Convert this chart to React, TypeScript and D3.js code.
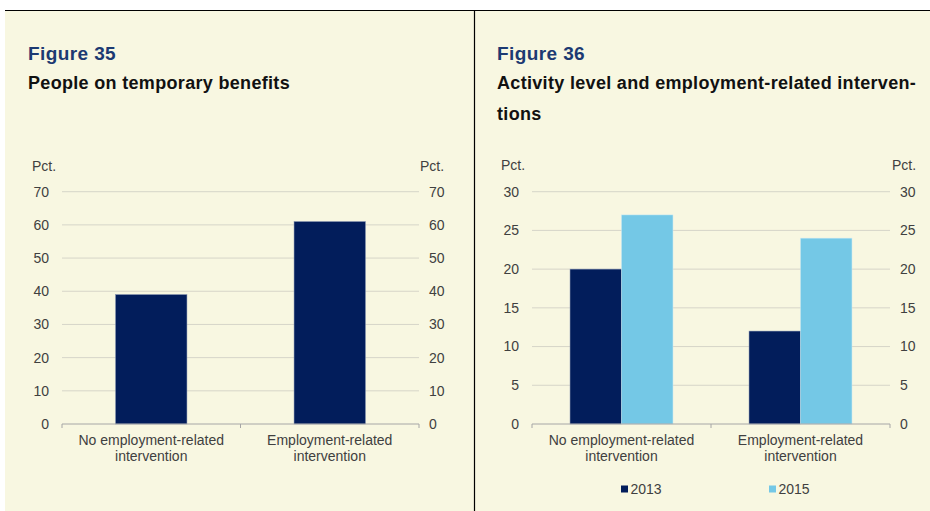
import React from "react";
import * as d3 from "d3";

const categories = ["No employment-related|intervention", "Employment-related|intervention"];
const fig35Values = [39, 61];
const fig35Ticks = [0, 10, 20, 30, 40, 50, 60, 70];
const seriesNames = ["2013", "2015"];
const fig36_2013 = [20, 12];
const fig36_2015 = [27, 24];
const fig36Ticks = [0, 5, 10, 15, 20, 25, 30];

const BG = "#f8f7e1";
const NAVY = "#021d5b";
const LIGHT = "#74c8e6";
const GRID = "#d6d5c8";
const AXIS = "#a6a6a6";
const TXT = "#404040";
const FONT = "'Liberation Sans', Arial, sans-serif";
const FS = 14;

function Axes({ x0, x1, y, ticks, labelL, labelR }: any) {
  return (
    <g>
      {ticks.map((t: number) => (
        <g key={t}>
          {t !== 0 && <line x1={x0} x2={x1} y1={y(t)} y2={y(t)} stroke={GRID} strokeWidth={1} />}
          <text x={labelL} y={y(t)} dy="0.35em" textAnchor="end" fontSize={FS} fill={TXT} fontFamily={FONT}>{t}</text>
          <text x={labelR} y={y(t)} dy="0.35em" textAnchor="start" fontSize={FS} fill={TXT} fontFamily={FONT}>{t}</text>
        </g>
      ))}
    </g>
  );
}

function CatLabels({ x, cats, y0 }: any) {
  return (
    <g>
      {cats.map((c: string) => {
        const lines = c.split("|");
        const cx = (x(c) as number) + x.bandwidth() / 2;
        return lines.map((l, i) => (
          <text key={c + i} x={cx} y={y0 + 21 + i * 15.5} textAnchor="middle" fontSize={FS} fill={TXT} fontFamily={FONT}>{l}</text>
        ));
      })}
    </g>
  );
}

function BaseAxis({ x0, x1, y0, n }: any) {
  const xs = d3.range(n + 1).map((i) => x0 + ((x1 - x0) * i) / n);
  return (
    <g>
      <line x1={x0} x2={x1} y1={y0} y2={y0} stroke={AXIS} strokeWidth={1} />
      {xs.map((xx, i) => (
        <line key={i} x1={xx} x2={xx} y1={y0} y2={y0 + 4} stroke={AXIS} strokeWidth={1} />
      ))}
    </g>
  );
}

export default function App() {
  const yTop = 191.7;
  const yBot = 424;

  // Figure 35
  const l0 = 62, l1 = 419;
  const yL = d3.scaleLinear().domain([0, 70]).range([yBot, yTop]);
  const xL = d3.scaleBand<string>().domain(categories).range([l0, l1]).paddingInner(0.6).paddingOuter(0.3);

  // Figure 36
  const r0 = 532, r1 = 890;
  const yR = d3.scaleLinear().domain([0, 30]).range([yBot, yTop]);
  const xR = d3.scaleBand<string>().domain(categories).range([r0, r1]).paddingInner(0.425).paddingOuter(0.2125);
  const xS = d3.scaleBand<string>().domain(seriesNames).range([0, xR.bandwidth()]);
  const seriesVals = [fig36_2013, fig36_2015];
  const seriesCols = [NAVY, LIGHT];

  const titleStyle = { fontSize: 19, fontWeight: "bold" as const, fill: "#1c3a72", fontFamily: FONT, letterSpacing: 0.4 };
  const subStyle = { fontSize: 18, fontWeight: "bold" as const, fill: "#111", fontFamily: FONT, letterSpacing: 0.32 };

  return (
    <svg width={930} height={511} style={{ position: "absolute", left: 0, top: 0 }}>
      <rect x={0} y={0} width={930} height={511} fill="#ffffff" />
      <rect x={5} y={10} width={925} height={501} fill={BG} />
      <line x1={5} x2={930} y1={10.5} y2={10.5} stroke="#000" strokeWidth={1.2} />
      <line x1={474.5} x2={474.5} y1={10} y2={511} stroke="#000" strokeWidth={1.2} />

      {/* Titles */}
      <text x={28} y={60} style={titleStyle}>Figure 35</text>
      <text x={28} y={89} style={subStyle}>People on temporary benefits</text>
      <text x={497} y={60} style={titleStyle}>Figure 36</text>
      <text x={497} y={89} style={subStyle}>Activity level and employment-related interven-</text>
      <text x={497} y={120} style={subStyle}>tions</text>

      {/* Figure 35 chart */}
      <text x={32} y={171} fontSize={FS} fill={TXT} fontFamily={FONT}>Pct.</text>
      <text x={420} y={171} fontSize={FS} fill={TXT} fontFamily={FONT}>Pct.</text>
      <Axes x0={l0} x1={l1} y={yL} ticks={fig35Ticks} labelL={49} labelR={429} />
      {categories.map((c, i) => (
        <rect key={c} x={xL(c)} y={yL(fig35Values[i])} width={xL.bandwidth()} height={yBot - yL(fig35Values[i])} fill={NAVY} stroke="#8090b0" strokeWidth={0.5} />
      ))}
      <BaseAxis x0={l0} x1={l1} y0={yBot} n={categories.length} />
      <CatLabels x={xL} cats={categories} y0={yBot} />

      {/* Figure 36 chart */}
      <text x={501} y={170} fontSize={FS} fill={TXT} fontFamily={FONT}>Pct.</text>
      <text x={892} y={170} fontSize={FS} fill={TXT} fontFamily={FONT}>Pct.</text>
      <Axes x0={r0} x1={r1} y={yR} ticks={fig36Ticks} labelL={519} labelR={900} />
      {categories.map((c, i) => (
        <g key={c} transform={`translate(${xR(c)},0)`}>
          {seriesNames.map((s, k) => (
            <rect key={s} x={xS(s)} y={yR(seriesVals[k][i])} width={xS.bandwidth()} height={yBot - yR(seriesVals[k][i])} fill={seriesCols[k]} stroke={k === 0 ? "#8090b0" : "#c8e8f4"} strokeWidth={0.5} />
          ))}
        </g>
      ))}
      <BaseAxis x0={r0} x1={r1} y0={yBot} n={categories.length} />
      <CatLabels x={xR} cats={categories} y0={yBot} />

      {/* Legend */}
      {seriesNames.map((s, k) => {
        const lx = [621, 769][k];
        return (
          <g key={s}>
            <rect x={lx} y={485.5} width={7} height={7} fill={seriesCols[k]} />
            <text x={lx + 9.5} y={494} fontSize={FS} fill={TXT} fontFamily={FONT}>{s}</text>
          </g>
        );
      })}
    </svg>
  );
}
